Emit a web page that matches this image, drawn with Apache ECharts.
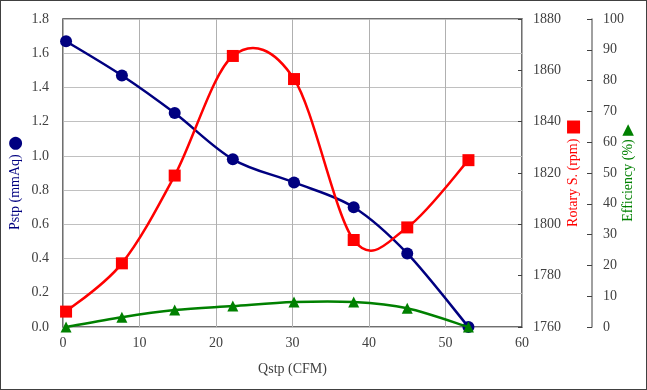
<!DOCTYPE html>
<html><head><meta charset="utf-8">
<script src="https://cdn.jsdelivr.net/npm/echarts@6/dist/echarts.min.js"></script>
<style>html,body{margin:0;padding:0;background:#fff}#c{width:645px;height:388px;border:1px solid #404040}</style>
</head><body><div id="c"></div>
<script>
const qstp = [0.4, 7.7, 14.6, 22.2, 30.2, 38.0, 45.0, 53.0];
const pstp = [1.67, 1.47, 1.25, 0.98, 0.845, 0.70, 0.43, 0.0];
const rotary = [1766, 1784.8, 1819, 1865.6, 1856.6, 1793.9, 1798.8, 1825];
const efficiency = [0, 3.2, 5.5, 6.8, 8.1, 8.1, 6.1, 0];

const serif = 'Liberation Serif';
const lab = {fontFamily: serif, fontSize: 14, color: '#404040'};
const chart = echarts.init(document.getElementById('c'), null, {renderer: 'canvas'});
const pair = (ys) => qstp.map((x, i) => [x, ys[i]]);

// Smooth curve (Catmull-Rom style Bezier) through the data points, positioned by the axes
function smoothLine(ys, color, yIdx, z) {
  return {
    type: 'custom', yAxisIndex: yIdx, z: z, silent: true,
    data: pair(ys), encode: {x: 0, y: 1},
    renderItem: function (params, api) {
      const i = params.dataIndex, n = ys.length;
      if (i >= n - 1) return null;
      const P = k => api.coord([qstp[Math.max(0, Math.min(n - 1, k))], ys[Math.max(0, Math.min(n - 1, k))]]);
      const p0 = P(i - 1), p1 = P(i), p2 = P(i + 1), p3 = P(i + 2);
      const t = 1 / 6;
      return {
        type: 'bezierCurve',
        shape: {
          x1: p1[0], y1: p1[1], x2: p2[0], y2: p2[1],
          cpx1: p1[0] + (p2[0] - p0[0]) * t, cpy1: p1[1] + (p2[1] - p0[1]) * t,
          cpx2: p2[0] - (p3[0] - p1[0]) * t, cpy2: p2[1] - (p3[1] - p1[1]) * t
        },
        style: {stroke: color, lineWidth: 2.5, fill: null}
      };
    }
  };
}
function markers(ys, color, yIdx, symbol, size, z) {
  return {type: 'scatter', yAxisIndex: yIdx, z: z, data: pair(ys), symbol: symbol, symbolSize: size,
    itemStyle: {color: color, opacity: 1}};
}

chart.setOption({
  animation: false,
  grid: {left: 62, right: 124, top: 18, bottom: 62, show: true, borderColor: '#404040', borderWidth: 1.5,
    backgroundColor: 'transparent', outerBoundsMode: 'none', containLabel: false},
  xAxis: {
    type: 'value', min: 0, max: 60, interval: 10,
    name: 'Qstp (CFM)', nameLocation: 'middle', nameGap: 35,
    nameTextStyle: {fontFamily: serif, fontSize: 14, color: '#404040'},
    axisLine: {show: false}, axisTick: {show: false},
    axisLabel: Object.assign({margin: 9}, lab),
    splitLine: {show: true, lineStyle: {color: '#b0b0b0', width: 1}}
  },
  yAxis: [
    {
      type: 'value', min: 0, max: 1.8, interval: 0.2, position: 'left',
      name: 'Pstp (mmAq) {m|●}', nameLocation: 'middle', nameGap: 39, nameRotate: 90, nameMoveOverlap: false,
      nameTextStyle: {fontFamily: serif, fontSize: 14, color: '#000080', padding: [0, 20, 0, 0],
        rich: {m: {fontFamily: 'DejaVu Sans', fontSize: 17, color: '#000080'}}},
      axisLine: {show: false}, axisTick: {show: false},
      axisLabel: Object.assign({margin: 14, formatter: v => v.toFixed(1)}, lab),
      splitLine: {show: true, lineStyle: {color: '#c0c0c0', width: 1}}
    },
    {
      type: 'value', min: 1760, max: 1880, interval: 20, position: 'right',
      name: 'Rotary S. (rpm) {m|■}', nameLocation: 'middle', nameGap: 43, nameRotate: 90, nameMoveOverlap: false,
      nameTextStyle: {fontFamily: serif, fontSize: 14, color: '#ff0000',
        rich: {m: {fontFamily: 'DejaVu Sans', fontSize: 17, color: '#ff0000'}}},
      axisLine: {show: false},
      axisTick: {show: true, inside: true, length: 4, lineStyle: {color: '#404040'}},
      axisLabel: Object.assign({margin: 11, formatter: v => String(v)}, lab),
      splitLine: {show: false}
    },
    {
      type: 'value', min: 0, max: 100, interval: 10, position: 'right', offset: 70,
      name: 'Efficiency (%) {m|▶}', nameLocation: 'middle', nameGap: 29, nameRotate: 90, nameMoveOverlap: false,
      nameTextStyle: {fontFamily: serif, fontSize: 14, color: '#008000',
        rich: {m: {fontFamily: 'DejaVu Sans', fontSize: 15, color: '#008000'}}},
      axisLine: {show: true, lineStyle: {color: '#808080', width: 1.5}},
      axisTick: {show: true, inside: true, length: 5, lineStyle: {color: '#404040'}},
      axisLabel: Object.assign({margin: 11}, lab),
      splitLine: {show: false}
    }
  ],
  series: [
    smoothLine(pstp, '#000080', 0, 2),
    markers(pstp, '#000080', 0, 'circle', 12, 3),
    smoothLine(rotary, '#ff0000', 1, 4),
    markers(rotary, '#ff0000', 1, 'rect', 12, 5),
    smoothLine(efficiency, '#008000', 2, 6),
    markers(efficiency, '#008000', 2, 'triangle', 11, 7)
  ]
});
</script></body></html>
